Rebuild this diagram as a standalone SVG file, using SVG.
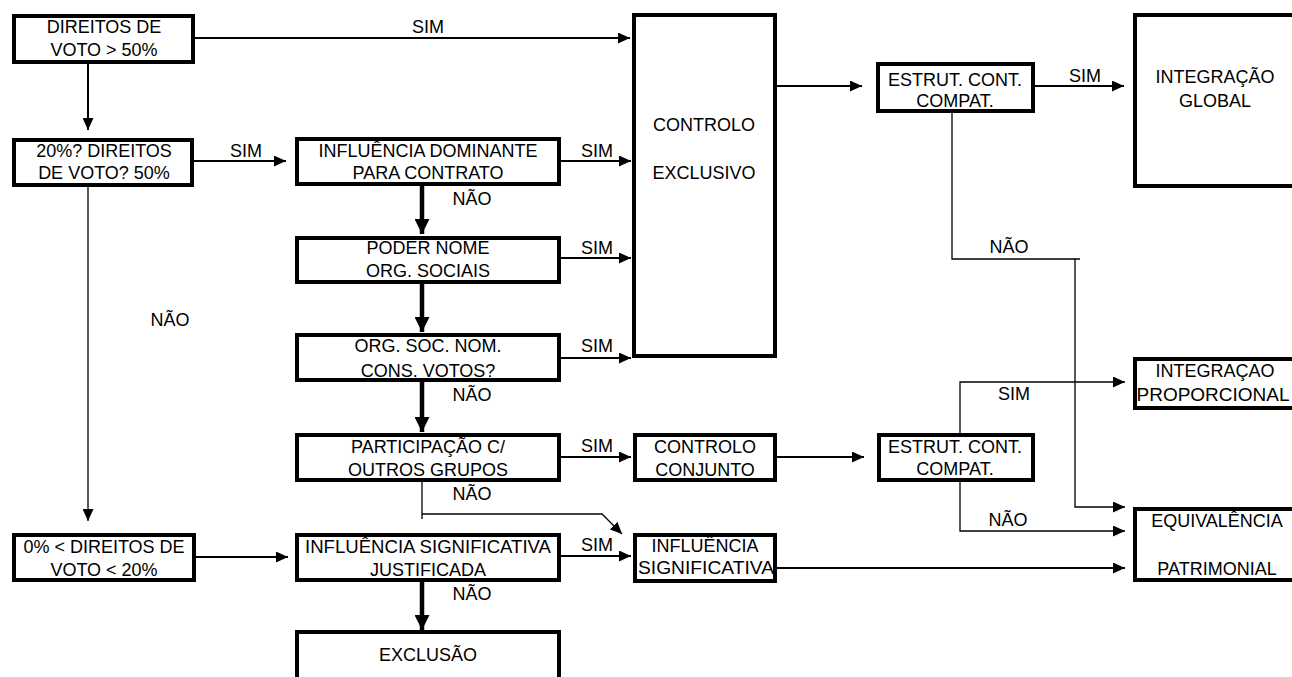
<svg xmlns="http://www.w3.org/2000/svg" width="1292" height="677" viewBox="0 0 1292 677">
<style>
.box{fill:#fff;stroke:#000;stroke-width:4}
text{font-family:"Liberation Sans",Arial,sans-serif;font-size:18px;fill:#000;text-anchor:middle}
.c{fill:none;stroke:#000;stroke-width:2}
.t{fill:none;stroke:#000;stroke-width:1.3}
.k{fill:none;stroke:#000;stroke-width:4.5}
</style>
<defs>
<marker id="ah" markerUnits="userSpaceOnUse" markerWidth="12" markerHeight="11" refX="12" refY="5.5" orient="auto"><path d="M0,0 L12,5.5 L0,11 z" fill="#000"/></marker>
<marker id="ahb" markerUnits="userSpaceOnUse" markerWidth="15" markerHeight="15" refX="15" refY="7.5" orient="auto"><path d="M0,0 L15,7.5 L0,15 z" fill="#000"/></marker>
</defs>
<rect width="1292" height="677" fill="#fff"/>
<g id="connectors">
<path class="c" d="M195,38 H630" marker-end="url(#ah)"/>
<path class="c" d="M88,64 V130" marker-end="url(#ah)"/>
<path class="c" d="M194,161 H286" marker-end="url(#ah)"/>
<path class="t" d="M88,187 V521" marker-end="url(#ah)"/>
<path class="c" d="M196,557 H288" marker-end="url(#ah)"/>
<path class="c" d="M561,161 H631" marker-end="url(#ah)"/>
<path class="k" d="M422,186 V234" marker-end="url(#ahb)"/>
<path class="c" d="M561,258 H631" marker-end="url(#ah)"/>
<path class="k" d="M422,284 V332" marker-end="url(#ahb)"/>
<path class="c" d="M561,358 H631" marker-end="url(#ah)"/>
<path class="k" d="M422,382 V432" marker-end="url(#ahb)"/>
<path class="c" d="M561,457 H631" marker-end="url(#ah)"/>
<path class="c" d="M777,457 H864" marker-end="url(#ah)"/>
<path class="t" d="M422,482 V519"/>
<path class="t" d="M422,514 H602 L622,534" marker-end="url(#ah)"/>
<path class="c" d="M561,556 H631" marker-end="url(#ah)"/>
<path class="k" d="M422,582 V630" marker-end="url(#ahb)"/>
<path class="c" d="M777,568 H1125" marker-end="url(#ah)"/>
<path class="c" d="M777,86 H862" marker-end="url(#ah)"/>
<path class="c" d="M1035,86 H1124" marker-end="url(#ah)"/>
<path class="t" d="M952,113 V259 H1080"/>
<path class="t" d="M1075,259 V507 H1125" marker-end="url(#ah)"/>
<path class="t" d="M960,433 V382 H1125" marker-end="url(#ah)"/>
<path class="t" d="M960,482 V531 H1125" marker-end="url(#ah)"/>
<text x="428" y="33">SIM</text>
<text x="246" y="157">SIM</text>
<text x="170" y="326">NÃO</text>
<text x="597" y="157">SIM</text>
<text x="472" y="205">NÃO</text>
<text x="597" y="254">SIM</text>
<text x="597" y="352">SIM</text>
<text x="472" y="401">NÃO</text>
<text x="597" y="452">SIM</text>
<text x="472" y="500">NÃO</text>
<text x="597" y="551">SIM</text>
<text x="472" y="600">NÃO</text>
<text x="1085" y="82">SIM</text>
<text x="1009" y="253">NÃO</text>
<text x="1014" y="400">SIM</text>
<text x="1008" y="526">NÃO</text>
</g>
<g id="n1"><rect class="box" x="14" y="16" width="179" height="46"/><text x="104" y="33">DIREITOS DE</text><text x="104" y="56">VOTO &gt; 50%</text></g>
<g id="n2"><rect class="box" x="14" y="140" width="178" height="45"/><text x="104" y="157">20%? DIREITOS</text><text x="104" y="179">DE VOTO? 50%</text></g>
<g id="n3"><rect class="box" x="14" y="535" width="180" height="45"/><text x="104" y="553">0% &lt; DIREITOS DE</text><text x="104" y="576">VOTO &lt; 20%</text></g>
<g id="n4"><rect class="box" x="297" y="139" width="262" height="45"/><text x="428" y="157">INFLUÊNCIA DOMINANTE</text><text x="428" y="179">PARA CONTRATO</text></g>
<g id="n5"><rect class="box" x="297" y="238" width="262" height="44"/><text x="428" y="254">PODER NOME</text><text x="428" y="277">ORG. SOCIAIS</text></g>
<g id="n6"><rect class="box" x="297" y="335" width="262" height="45"/><text x="428" y="352">ORG. SOC. NOM.</text><text x="428" y="377">CONS. VOTOS?</text></g>
<g id="n7"><rect class="box" x="297" y="435" width="262" height="45"/><text x="428" y="453">PARTICIPAÇÃO C/</text><text x="428" y="476">OUTROS GRUPOS</text></g>
<g id="n8"><rect class="box" x="297" y="535" width="262" height="45"/><text x="428" y="553" textLength="246" lengthAdjust="spacingAndGlyphs">INFLUÊNCIA SIGNIFICATIVA</text><text x="428" y="576">JUSTIFICADA</text></g>
<g id="n9"><rect class="box" x="297" y="632" width="262" height="80"/><text x="428" y="661">EXCLUSÃO</text></g>
<g id="n10"><rect class="box" x="634" y="15" width="141" height="341"/><text x="704" y="131">CONTROLO</text><text x="704" y="179">EXCLUSIVO</text></g>
<g id="n11"><rect class="box" x="635" y="435" width="140" height="45"/><text x="705" y="453">CONTROLO</text><text x="705" y="476">CONJUNTO</text></g>
<g id="n12"><rect class="box" x="635" y="535" width="140" height="46"/><text x="705" y="552">INFLUÊNCIA</text><text x="706" y="574" textLength="136" lengthAdjust="spacingAndGlyphs">SIGNIFICATIVA</text></g>
<g id="n13"><rect class="box" x="878" y="64" width="155" height="47"/><text x="955" y="86">ESTRUT. CONT.</text><text x="955" y="107">COMPAT.</text></g>
<g id="n14"><rect class="box" x="879" y="435" width="154" height="45"/><text x="955" y="453">ESTRUT. CONT.</text><text x="955" y="475">COMPAT.</text></g>
<g id="n15"><rect class="box" x="1135" y="15" width="165" height="171"/><text x="1215" y="83">INTEGRAÇÃO</text><text x="1215" y="107">GLOBAL</text></g>
<g id="n16"><rect class="box" x="1135" y="359" width="165" height="49"/><text x="1215" y="377">INTEGRAÇAO</text><text x="1213" y="401" textLength="153" lengthAdjust="spacingAndGlyphs">PROPORCIONAL</text></g>
<g id="n17"><rect class="box" x="1135" y="509" width="165" height="71"/><text x="1217" y="527">EQUIVALÊNCIA</text><text x="1217" y="575">PATRIMONIAL</text></g>
</svg>
